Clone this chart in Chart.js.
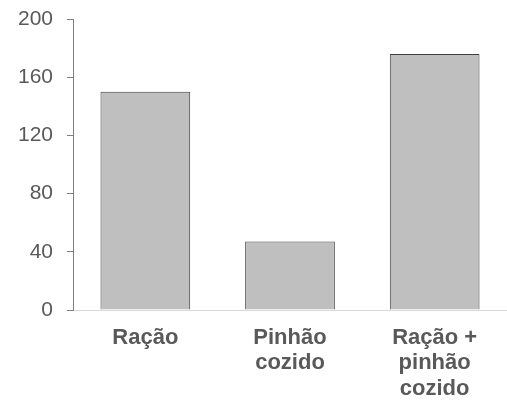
<!DOCTYPE html>
<html>
<head>
<meta charset="utf-8">
<script src="https://cdn.jsdelivr.net/npm/chart.js@4.4.0/dist/chart.umd.min.js"></script>
<style>
  body { margin: 0; background: #fff; }
  canvas { display: block; }
</style>
</head>
<body>
<canvas id="chart" width="507" height="401"></canvas>
<script>
// data
const categories = [['Ração'], ['Pinhão', 'cozido'], ['Ração +', 'pinhão', 'cozido']];
const values = [150, 47, 176];
const yTicks = [0, 40, 80, 120, 160, 200];

const FONT = "'Liberation Sans', Arial, sans-serif";

new Chart(document.getElementById('chart'), {
  type: 'bar',
  data: {
    labels: categories,
    datasets: [{
      data: values,
      backgroundColor: '#bfbfbf',
      borderColor: '#404040',
      borderWidth: 1,
      categoryPercentage: 1,
      barPercentage: 0.62
    }]
  },
  options: {
    responsive: false,
    devicePixelRatio: 1,
    animation: false,
    layout: { padding: { top: 19, right: 0, bottom: 0, left: 0 } },
    plugins: { legend: { display: false }, tooltip: { enabled: false } },
    scales: {
      x: {
        grid: { display: false, drawTicks: false },
        border: { color: '#d9d9d9', width: 1 },
        ticks: {
          color: '#595959',
          font: { family: FONT, size: 22, weight: 'bold', lineHeight: 1.16 },
          padding: 15,
          maxRotation: 0,
          autoSkip: false
        },
        afterFit: (s) => { s.height = 91; }
      },
      y: {
        min: yTicks[0],
        max: yTicks[yTicks.length - 1],
        afterBuildTicks: (s) => { s.ticks = yTicks.map(v => ({ value: v })); },
        grid: { drawOnChartArea: false, drawTicks: true, tickLength: 6, color: '#808080' },
        border: { color: '#808080', width: 1 },
        ticks: {
          color: '#595959',
          font: { family: FONT, size: 21 },
          padding: 14
        },
        afterFit: (s) => {
          s.width = 73;
          // label padding should not push the plot area down
          s.paddingTop = 10;
          s.paddingBottom = 10;
        }
      }
    }
  }
});
</script>
</body>
</html>
